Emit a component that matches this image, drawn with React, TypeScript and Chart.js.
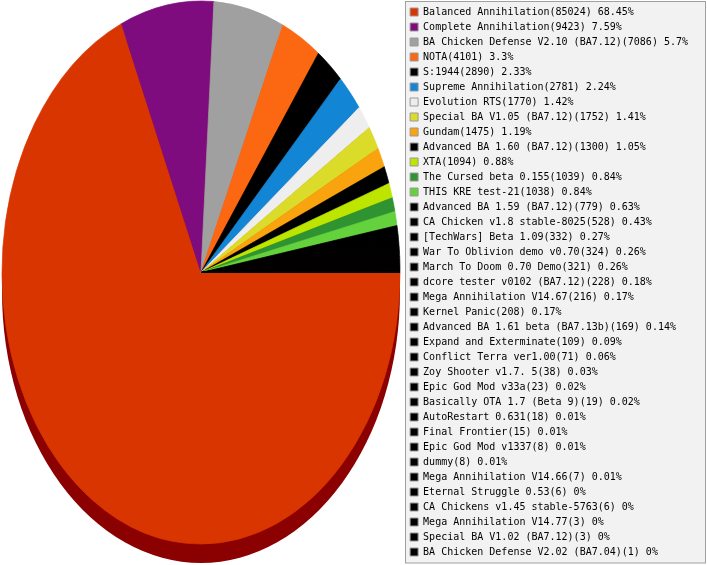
import React, { useEffect, useRef } from 'react';
import Chart from 'chart.js/auto';

const mods: string[] = [
  'Balanced Annihilation',
  'Complete Annihilation',
  'BA Chicken Defense V2.10 (BA7.12)',
  'NOTA',
  'S:1944',
  'Supreme Annihilation',
  'Evolution RTS',
  'Special BA V1.05 (BA7.12)',
  'Gundam',
  'Advanced BA 1.60 (BA7.12)',
  'XTA',
  'The Cursed beta 0.155',
  'THIS KRE test-21',
  'Advanced BA 1.59 (BA7.12)',
  'CA Chicken v1.8 stable-8025',
  '[TechWars] Beta 1.09',
  'War To Oblivion demo v0.70',
  'March To Doom 0.70 Demo',
  'dcore tester v0102 (BA7.12)',
  'Mega Annihilation V14.67',
  'Kernel Panic',
  'Advanced BA 1.61 beta (BA7.13b)',
  'Expand and Exterminate',
  'Conflict Terra ver1.00',
  'Zoy Shooter v1.7. 5',
  'Epic God Mod v33a',
  'Basically OTA 1.7 (Beta 9)',
  'AutoRestart 0.631',
  'Final Frontier',
  'Epic God Mod v1337',
  'dummy',
  'Mega Annihilation V14.66',
  'Eternal Struggle 0.53',
  'CA Chickens v1.45 stable-5763',
  'Mega Annihilation V14.77',
  'Special BA V1.02 (BA7.12)',
  'BA Chicken Defense V2.02 (BA7.04)',
];

const games: number[] = [
  85024, 9423, 7086, 4101, 2890, 2781, 1770, 1752, 1475, 1300, 1094, 1039, 1038,
  779, 528, 332, 324, 321, 228, 216, 208, 169, 109, 71, 38, 23, 19, 18, 15, 8, 8,
  7, 6, 6, 3, 3, 1,
];

// colours of the first slices, everything after is black
const sliceColors: string[] = [
  '#d93500', '#7f0c7e', '#a0a0a0', '#fc6811', '#000000', '#1285d4', '#eeeeee',
  '#dbdb2a', '#f9a30e', '#000000', '#bde500', '#2f9331', '#64d23d',
];

// ellipse the pie is squashed into, plus the 3d edge under it
const PIE_CX = 201;
const PIE_CY = 272.5;
const PIE_RX = 199;
const PIE_RY = 271.5;
const DEPTH = 19;
const DEPTH_COLOR = '#8b0000';

const total = games.reduce((a, b) => a + b, 0);
const pct = (v: number) => String(Number(((v / total) * 100).toFixed(2)));
const colorOf = (i: number) => sliceColors[i] ?? '#000000';

const ellipsePie = {
  id: 'ellipsePie',
  beforeDraw(chart: any) {
    const { ctx, legend } = chart;
    if (!legend) return;
    ctx.save();
    const x = Math.round(legend.left) + 0.5;
    const w = chart.width - 1.5 - x;
    ctx.fillStyle = '#f2f2f2';
    ctx.fillRect(x, 1.5, w, chart.height - 3.5);
    ctx.strokeStyle = '#a0a0a0';
    ctx.lineWidth = 1;
    ctx.strokeRect(x, 1.5, w, chart.height - 3.5);
    ctx.restore();
  },
  beforeDatasetsDraw(chart: any) {
    const arc = chart.getDatasetMeta(0).data[0];
    if (!arc) return;
    const { x, y, outerRadius } = arc.getProps(['x', 'y', 'outerRadius'], true);
    const ctx = chart.ctx;
    ctx.save();
    ctx.save();
    ctx.translate(PIE_CX, PIE_CY + DEPTH);
    ctx.scale(PIE_RX, PIE_RY);
    ctx.beginPath();
    ctx.arc(0, 0, 1, 0, Math.PI * 2);
    ctx.restore();
    ctx.fillStyle = DEPTH_COLOR;
    ctx.fill();
    ctx.translate(PIE_CX, PIE_CY);
    ctx.scale(PIE_RX / outerRadius, PIE_RY / outerRadius);
    ctx.translate(-x, -y);
  },
  afterDatasetsDraw(chart: any) {
    chart.ctx.restore();
  },
};

const App: React.FC = () => {
  const canvasRef = useRef<HTMLCanvasElement>(null);

  useEffect(() => {
    if (!canvasRef.current) return;
    const colors = games.map((_, i) => colorOf(i));
    const chart = new Chart(canvasRef.current, {
      type: 'pie',
      data: {
        labels: mods,
        datasets: [
          {
            data: games,
            backgroundColor: colors,
            borderColor: colors, // hides the seams between the tiny black slices
            borderWidth: 0.6,
            clip: false,
          } as any,
        ],
      },
      options: {
        animation: false,
        responsive: true,
        maintainAspectRatio: false,
        events: [],
        rotation: 90,
        layout: { padding: { top: 2, right: 9, bottom: 0, left: 0 } },
        plugins: {
          tooltip: { enabled: false },
          legend: {
            position: 'right',
            align: 'start',
            labels: {
              boxWidth: 8,
              boxHeight: 8,
              padding: 5,
              color: '#000000',
              font: { family: 'DejaVu Sans Mono', size: 10 },
              generateLabels: () =>
                mods.map((name, i) => ({
                  text: `${name}(${games[i]}) ${pct(games[i])}%`,
                  fillStyle: colorOf(i),
                  strokeStyle: '#999999',
                  lineWidth: 1,
                  hidden: false,
                  index: i,
                  fontColor: '#000000',
                })),
            },
          },
        },
      },
      plugins: [ellipsePie],
    });
    return () => chart.destroy();
  }, []);

  return (
    <div style={{ position: 'fixed', left: 0, top: 0, width: 707, height: 565, background: '#ffffff' }}>
      <canvas ref={canvasRef} />
    </div>
  );
};

export default App;
